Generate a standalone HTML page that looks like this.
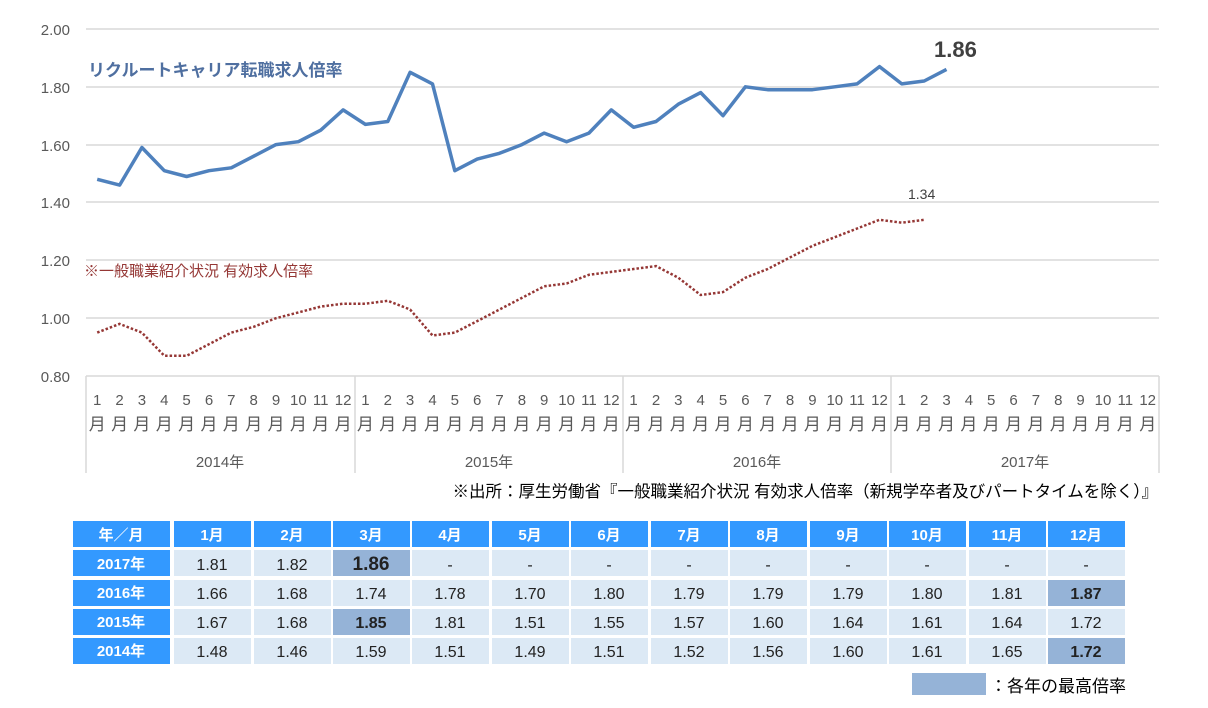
<!DOCTYPE html>
<html><head><meta charset="utf-8"><style>
body{margin:0;background:#fff;width:1208px;height:708px;overflow:hidden;font-family:"Liberation Sans","Noto Sans CJK JP",sans-serif;}
svg{position:absolute;left:0;top:0}
</style></head><body>
<svg width="1208" height="708" font-family="Liberation Sans, Noto Sans CJK JP, sans-serif">
<g stroke="#d9d9d9" stroke-width="1.5">
<line x1="86" y1="29" x2="1159" y2="29"/><line x1="86" y1="87" x2="1159" y2="87"/><line x1="86" y1="145" x2="1159" y2="145"/><line x1="86" y1="202" x2="1159" y2="202"/><line x1="86" y1="260" x2="1159" y2="260"/><line x1="86" y1="318" x2="1159" y2="318"/><line x1="86" y1="376" x2="1159" y2="376"/>
<line x1="86" y1="376" x2="86" y2="473"/><line x1="355" y1="376" x2="355" y2="473"/><line x1="623" y1="376" x2="623" y2="473"/><line x1="891" y1="376" x2="891" y2="473"/><line x1="1159" y1="376" x2="1159" y2="473"/>
</g>
<g font-size="15" fill="#595959" text-anchor="end">
<text x="70" y="35">2.00</text><text x="70" y="93">1.80</text><text x="70" y="151">1.60</text><text x="70" y="208">1.40</text><text x="70" y="266">1.20</text><text x="70" y="324">1.00</text><text x="70" y="382">0.80</text>
</g>
<g font-size="15" fill="#595959" text-anchor="middle">
<text y="405"><tspan x="97.2">1</tspan><tspan x="119.6">2</tspan><tspan x="141.9">3</tspan><tspan x="164.3">4</tspan><tspan x="186.6">5</tspan><tspan x="209">6</tspan><tspan x="231.3">7</tspan><tspan x="253.7">8</tspan><tspan x="276">9</tspan><tspan x="298.4">10</tspan><tspan x="320.7">11</tspan><tspan x="343.1">12</tspan><tspan x="365.4">1</tspan><tspan x="387.8">2</tspan><tspan x="410.1">3</tspan><tspan x="432.5">4</tspan><tspan x="454.8">5</tspan><tspan x="477.2">6</tspan><tspan x="499.5">7</tspan><tspan x="521.9">8</tspan><tspan x="544.2">9</tspan><tspan x="566.6">10</tspan><tspan x="588.9">11</tspan><tspan x="611.3">12</tspan><tspan x="633.6">1</tspan><tspan x="656">2</tspan><tspan x="678.3">3</tspan><tspan x="700.7">4</tspan><tspan x="723">5</tspan><tspan x="745.4">6</tspan><tspan x="767.7">7</tspan><tspan x="790.1">8</tspan><tspan x="812.4">9</tspan><tspan x="834.8">10</tspan><tspan x="857.1">11</tspan><tspan x="879.5">12</tspan><tspan x="901.8">1</tspan><tspan x="924.2">2</tspan><tspan x="946.5">3</tspan><tspan x="968.9">4</tspan><tspan x="991.2">5</tspan><tspan x="1013.6">6</tspan><tspan x="1035.9">7</tspan><tspan x="1058.3">8</tspan><tspan x="1080.6">9</tspan><tspan x="1103">10</tspan><tspan x="1125.3">11</tspan><tspan x="1147.7">12</tspan></text>
<text y="430" font-size="17"><tspan x="97.2">月</tspan><tspan x="119.6">月</tspan><tspan x="141.9">月</tspan><tspan x="164.3">月</tspan><tspan x="186.6">月</tspan><tspan x="209">月</tspan><tspan x="231.3">月</tspan><tspan x="253.7">月</tspan><tspan x="276">月</tspan><tspan x="298.4">月</tspan><tspan x="320.7">月</tspan><tspan x="343.1">月</tspan><tspan x="365.4">月</tspan><tspan x="387.8">月</tspan><tspan x="410.1">月</tspan><tspan x="432.5">月</tspan><tspan x="454.8">月</tspan><tspan x="477.2">月</tspan><tspan x="499.5">月</tspan><tspan x="521.9">月</tspan><tspan x="544.2">月</tspan><tspan x="566.6">月</tspan><tspan x="588.9">月</tspan><tspan x="611.3">月</tspan><tspan x="633.6">月</tspan><tspan x="656">月</tspan><tspan x="678.3">月</tspan><tspan x="700.7">月</tspan><tspan x="723">月</tspan><tspan x="745.4">月</tspan><tspan x="767.7">月</tspan><tspan x="790.1">月</tspan><tspan x="812.4">月</tspan><tspan x="834.8">月</tspan><tspan x="857.1">月</tspan><tspan x="879.5">月</tspan><tspan x="901.8">月</tspan><tspan x="924.2">月</tspan><tspan x="946.5">月</tspan><tspan x="968.9">月</tspan><tspan x="991.2">月</tspan><tspan x="1013.6">月</tspan><tspan x="1035.9">月</tspan><tspan x="1058.3">月</tspan><tspan x="1080.6">月</tspan><tspan x="1103">月</tspan><tspan x="1125.3">月</tspan><tspan x="1147.7">月</tspan></text>
<text x="220" y="467">2014年</text><text x="489" y="467">2015年</text><text x="757" y="467">2016年</text><text x="1025" y="467">2017年</text>
</g>
<polyline fill="none" stroke="#4f81bd" stroke-width="3.5" stroke-linejoin="round" points="97.2,179.3 119.6,185.1 141.9,147.5 164.3,170.7 186.6,176.5 209,170.7 231.3,167.8 253.7,156.2 276,144.6 298.4,141.7 320.7,130.2 343.1,109.9 365.4,124.4 387.8,121.5 410.1,72.3 432.5,83.9 454.8,170.7 477.2,159.1 499.5,153.3 521.9,144.6 544.2,133.1 566.6,141.7 588.9,133.1 611.3,109.9 633.6,127.3 656,121.5 678.3,104.2 700.7,92.6 723,115.7 745.4,86.8 767.7,89.7 790.1,89.7 812.4,89.7 834.8,86.8 857.1,83.9 879.5,66.6 901.8,83.9 924.2,81 946.5,69.4"/>
<polyline fill="none" stroke="#953735" stroke-width="2.5" stroke-dasharray="2.5,2" points="97.2,332.6 119.6,323.9 141.9,332.6 164.3,355.8 186.6,355.8 209,344.2 231.3,332.6 253.7,326.8 276,318.2 298.4,312.4 320.7,306.6 343.1,303.7 365.4,303.7 387.8,300.8 410.1,309.5 432.5,335.5 454.8,332.6 477.2,321.1 499.5,309.5 521.9,297.9 544.2,286.3 566.6,283.5 588.9,274.8 611.3,271.9 633.6,269 656,266.1 678.3,277.7 700.7,295 723,292.1 745.4,277.7 767.7,269 790.1,257.4 812.4,245.9 834.8,237.2 857.1,228.5 879.5,219.8 901.8,222.7 924.2,219.8"/>
<text x="88" y="76" font-size="17" font-weight="bold" fill="#4f6fa0">リクルートキャリア転職求人倍率</text>
<text x="934" y="57" font-size="22" font-weight="bold" fill="#404040">1.86</text>
<text x="908" y="199" font-size="14" fill="#404040">1.34</text>
<text x="84" y="276" font-size="15" fill="#953735">※一般職業紹介状況 有効求人倍率</text>
<text x="1158" y="497" font-size="16.5" fill="#000" text-anchor="end">※出所：厚生労働省『一般職業紹介状況 有効求人倍率（新規学卒者及びパートタイムを除く）』</text>

<g fill="#3399ff">
<rect x="73" y="521" width="97" height="26"/>
<rect x="73" y="550" width="97" height="26"/><rect x="73" y="580" width="97" height="26"/><rect x="73" y="609" width="97" height="26"/><rect x="73" y="638" width="97" height="26"/>
</g>
<g fill="#3399ff">
<rect x="174" y="521" width="77" height="26"/><rect x="254" y="521" width="77" height="26"/><rect x="333" y="521" width="77" height="26"/><rect x="412" y="521" width="77" height="26"/><rect x="492" y="521" width="77" height="26"/><rect x="571" y="521" width="77" height="26"/><rect x="651" y="521" width="77" height="26"/><rect x="730" y="521" width="77" height="26"/><rect x="810" y="521" width="77" height="26"/><rect x="889" y="521" width="77" height="26"/><rect x="969" y="521" width="77" height="26"/><rect x="1048" y="521" width="77" height="26"/>
</g>
<g fill="#dce9f5">
<rect x="174" y="550" width="951" height="26"/><rect x="174" y="580" width="951" height="26"/><rect x="174" y="609" width="951" height="26"/><rect x="174" y="638" width="951" height="26"/>
</g>
<g fill="#fff">
<rect x="251" y="550" width="3" height="114"/><rect x="331" y="550" width="2" height="114"/><rect x="410" y="550" width="2" height="114"/><rect x="489" y="550" width="3" height="114"/><rect x="569" y="550" width="2" height="114"/><rect x="648" y="550" width="3" height="114"/><rect x="728" y="550" width="2" height="114"/><rect x="807" y="550" width="3" height="114"/><rect x="887" y="550" width="2" height="114"/><rect x="966" y="550" width="3" height="114"/><rect x="1046" y="550" width="2" height="114"/>
</g>
<g fill="#95b3d7">
<rect x="333" y="550" width="77" height="26"/><rect x="1048" y="580" width="77" height="26"/><rect x="333" y="609" width="77" height="26"/><rect x="1048" y="638" width="77" height="26"/>
<rect x="912" y="673" width="74" height="22"/>
</g>
<text x="990" y="692" font-size="17" fill="#000">：各年の最高倍率</text>
<g font-size="15" font-weight="bold" fill="#fff" text-anchor="middle">
<text x="121" y="540">年／月</text>
<text y="540"><tspan x="212">1月</tspan><tspan x="292">2月</tspan><tspan x="371">3月</tspan><tspan x="450">4月</tspan><tspan x="530">5月</tspan><tspan x="609">6月</tspan><tspan x="689">7月</tspan><tspan x="768">8月</tspan><tspan x="848">9月</tspan><tspan x="927">10月</tspan><tspan x="1007">11月</tspan><tspan x="1086">12月</tspan></text>
<text x="121" y="569">2017年</text><text x="121" y="598">2016年</text><text x="121" y="627">2015年</text><text x="121" y="656">2014年</text>
</g>
<g font-size="16" fill="#222" text-anchor="middle">
<text y="570"><tspan x="212">1.81</tspan><tspan x="292">1.82</tspan><tspan x="371" font-weight="bold" font-size="19">1.86</tspan><tspan x="450">-</tspan><tspan x="530">-</tspan><tspan x="609">-</tspan><tspan x="689">-</tspan><tspan x="768">-</tspan><tspan x="848">-</tspan><tspan x="927">-</tspan><tspan x="1007">-</tspan><tspan x="1086">-</tspan></text>
<text y="599"><tspan x="212">1.66</tspan><tspan x="292">1.68</tspan><tspan x="371">1.74</tspan><tspan x="450">1.78</tspan><tspan x="530">1.70</tspan><tspan x="609">1.80</tspan><tspan x="689">1.79</tspan><tspan x="768">1.79</tspan><tspan x="848">1.79</tspan><tspan x="927">1.80</tspan><tspan x="1007">1.81</tspan><tspan x="1086" font-weight="bold">1.87</tspan></text>
<text y="628"><tspan x="212">1.67</tspan><tspan x="292">1.68</tspan><tspan x="371" font-weight="bold">1.85</tspan><tspan x="450">1.81</tspan><tspan x="530">1.51</tspan><tspan x="609">1.55</tspan><tspan x="689">1.57</tspan><tspan x="768">1.60</tspan><tspan x="848">1.64</tspan><tspan x="927">1.61</tspan><tspan x="1007">1.64</tspan><tspan x="1086">1.72</tspan></text>
<text y="657"><tspan x="212">1.48</tspan><tspan x="292">1.46</tspan><tspan x="371">1.59</tspan><tspan x="450">1.51</tspan><tspan x="530">1.49</tspan><tspan x="609">1.51</tspan><tspan x="689">1.52</tspan><tspan x="768">1.56</tspan><tspan x="848">1.60</tspan><tspan x="927">1.61</tspan><tspan x="1007">1.65</tspan><tspan x="1086" font-weight="bold">1.72</tspan></text>
</g>
</svg>
</body></html>
